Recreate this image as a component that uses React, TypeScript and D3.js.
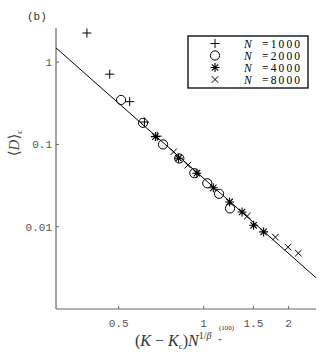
import React from 'react';
import * as d3 from 'd3';

// series: [x, y]
const n1000: [number, number][] = [
  [0.386, 2.26], [0.465, 0.714], [0.547, 0.331], [0.617, 0.187], [0.685, 0.126],
];
const n2000: [number, number][] = [
  [0.51, 0.347], [0.61, 0.183], [0.718, 0.1], [0.82, 0.0675], [0.927, 0.0447],
  [1.03, 0.0337], [1.134, 0.0251], [1.24, 0.0167],
];
const n4000: [number, number][] = [
  [0.675, 0.1245], [0.815, 0.068], [0.946, 0.0447], [1.082, 0.0297], [1.236, 0.02],
  [1.368, 0.0151], [1.503, 0.0104], [1.631, 0.00865],
];
const n8000: [number, number][] = [
  [0.783, 0.0812], [0.879, 0.056], [1.428, 0.01346], [1.795, 0.00747],
  [1.99, 0.00564], [2.165, 0.00477],
];
const fitX = [0.3, 2.5];
const fitY = [1.49, 0.0024];

const xTicks = [0.5, 1, 1.5, 2];
const xTickLabels = ['0.5', '1', '1.5', '2'];
const yTicks = [1, 0.1, 0.01];
const yTickLabels = ['1', '0.1', '0.01'];
const legendLabels = ['=1000', '=2000', '=4000', '=8000'];
const markerKinds = ['plus', 'circle', 'star', 'cross'];

const margin = { left: 56, right: 11, top: 28, bottom: 44 };
const W = 327;
const H = 353;

const Marker = ({ kind, x, y }: { kind: string; x: number; y: number }) => {
  const s = 4.5;
  if (kind === 'plus')
    return <path d={`M${x - s},${y}H${x + s}M${x},${y - s}V${y + s}`} stroke="#000" strokeWidth={1} fill="none" />;
  if (kind === 'circle')
    return <circle cx={x} cy={y} r={4.6} stroke="#000" strokeWidth={1} fill="none" />;
  if (kind === 'cross') {
    const c = 3.3;
    return <path d={`M${x - c},${y - c}L${x + c},${y + c}M${x - c},${y + c}L${x + c},${y - c}`} stroke="#000" strokeWidth={1} fill="none" />;
  }
  const c = 3.2;
  return (
    <path
      d={`M${x - s},${y}H${x + s}M${x},${y - s}V${y + s}M${x - c},${y - c}L${x + c},${y + c}M${x - c},${y + c}L${x + c},${y - c}`}
      stroke="#000" strokeWidth={1.1} fill="none"
    />
  );
};

const App = () => {
  const x = d3.scaleLog().domain([0.3, 2.5]).range([margin.left, W - margin.right]);
  const y = d3.scaleLog().domain([0.001, 2.6]).range([H - margin.bottom, margin.top]);
  const series = [n1000, n2000, n4000, n8000];
  const fitLine = d3.line<number>().x(d => x(fitX[d])).y(d => y(fitY[d]));

  const axisColor = '#666';
  const mono = '"Liberation Mono", "DejaVu Sans Mono", monospace';
  const serif = '"Liberation Serif", "DejaVu Serif", serif';
  const x0 = margin.left;
  const yB = H - margin.bottom;

  return (
    <svg width={W} height={H} style={{ position: 'absolute', left: 0, top: 0, background: '#fff' }}>
      {/* axes */}
      <line x1={x0} x2={x0} y1={margin.top} y2={yB} stroke={axisColor} strokeWidth={1.2} />
      <line x1={x0} x2={W - margin.right} y1={yB} y2={yB} stroke={axisColor} strokeWidth={1.2} />
      {yTicks.map((t, i) => (
        <g key={'y' + i}>
          <line x1={x0} x2={x0 + 3} y1={y(t)} y2={y(t)} stroke={axisColor} />
          <text x={x0 - 4} y={y(t)} dy="0.35em" textAnchor="end" fontFamily={mono} fontSize={11} fill="#555">
            {yTickLabels[i]}
          </text>
        </g>
      ))}
      {xTicks.map((t, i) => (
        <g key={'x' + i}>
          <line x1={x(t)} x2={x(t)} y1={yB} y2={yB - 3} stroke={axisColor} />
          <text x={x(t)} y={yB + 18} textAnchor="middle" fontFamily={mono} fontSize={11} fill="#555">
            {xTickLabels[i]}
          </text>
        </g>
      ))}

      {/* fit line */}
      <path d={fitLine([0, 1]) || ''} stroke="#000" strokeWidth={1} fill="none" />

      {/* points */}
      {series.map((s, si) =>
        s.map((p, pi) => <Marker key={si + '-' + pi} kind={markerKinds[si]} x={x(p[0])} y={y(p[1])} />)
      )}

      {/* legend */}
      <rect x={188} y={36} width={120} height={52} fill="#fff" stroke="#000" strokeWidth={1.3} />
      {legendLabels.map((l, i) => (
        <g key={'l' + i}>
          <Marker kind={markerKinds[i]} x={215} y={43.5 + i * 12} />
          <text x={244} y={43.5 + i * 12} dy="0.35em" fontFamily={serif} fontSize={11.5} fontStyle="italic" fill="#000">N</text>
          <text x={262} y={43.5 + i * 12} dy="0.35em" fontFamily={serif} fontSize={11.5} fill="#000"
            textLength={38} lengthAdjust="spacing">{l}</text>
        </g>
      ))}

      {/* panel label */}
      <text x={27} y={20} fontFamily={mono} fontSize={11} fill="#333">(b)</text>

      {/* y label */}
      <text transform="translate(19,143) rotate(-90)" textAnchor="middle" fontFamily={serif} fontSize={15} fill="#444">
        ⟨<tspan fontStyle="italic">D</tspan>⟩<tspan fontSize={9} dy={3}>c</tspan>
      </text>

      {/* x label */}
      <text x={135} y={346} fontFamily={serif} fontSize={16} fill="#333">
        (<tspan fontStyle="italic">K</tspan>
        <tspan dx={4}>−</tspan>
        <tspan dx={4} fontStyle="italic">K</tspan>
        <tspan fontSize={9} dy={3}>c</tspan>
        <tspan dy={-3}>)</tspan>
        <tspan fontStyle="italic">N</tspan>
        <tspan fontSize={10} dy={-7}>1/</tspan>
        <tspan fontSize={10} fontStyle="italic">β</tspan>
      </text>
      <text x={218} y={342} fontFamily={serif} fontSize={7} fill="#333">+</text>
      <text x={219} y={330} fontFamily={serif} fontSize={7} fill="#333">(100)</text>
    </svg>
  );
};

export default App;
